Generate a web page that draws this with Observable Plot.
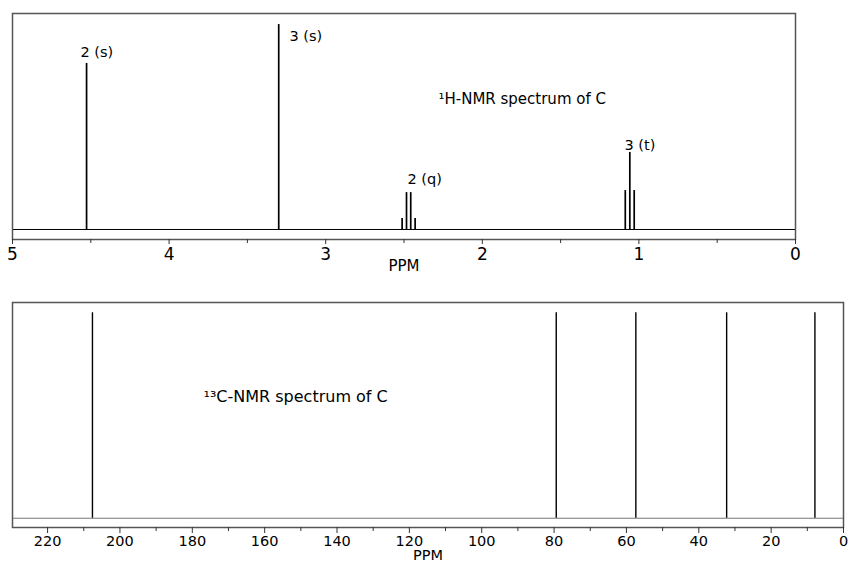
<!DOCTYPE html>
<html>
<head>
<meta charset="utf-8">
<script src="https://cdn.jsdelivr.net/npm/d3@7"></script>
<script src="https://cdn.jsdelivr.net/npm/@observablehq/plot@0.6"></script>
<style>
  html, body { margin: 0; padding: 0; background: #fff; }
  #chart { width: 848px; height: 563px; overflow: hidden; }
  #chart svg { display: block; }
</style>
</head>
<body>
<div id="chart"></div>
<script>
// ---- 1H-NMR data (ppm, relative intensity) ----
const hPeakPpm    = [4.527, 3.300, 2.512, 2.484, 2.457, 2.429, 1.087, 1.058, 1.030];
const hPeakHeight = [81,    100,   5.4,   18,    18,    5.4,   19,    37.6,  19];
const hTicks      = [5, 4, 3, 2, 1, 0];
const hMinorTicks = [4.5, 3.5, 2.5, 1.5, 0.5];
const hLabels     = ["2 (s)", "3 (s)", "2 (q)", "3 (t)"];
const hLabelPpm   = [4.566, 3.231, 2.478, 1.092];
const hLabelY     = [86.5, 94.1, 24.4, 41];
const hTitle      = "¹H-NMR spectrum of C";
const hTitlePpm   = 2.28;
const hTitleY     = 63.6;

// ---- 13C-NMR data ----
const cPeakPpm    = [207.6, 79.4, 57.4, 32.3, 7.9];
const cPeakHeight = [100, 100, 100, 100, 100];
const cTicks      = [220, 200, 180, 160, 140, 120, 100, 80, 60, 40, 20, 0];
const cMinorTicks = [210, 190, 170, 150, 130, 110, 90, 70, 50, 30, 10];
const cTitle      = "¹³C-NMR spectrum of C";
const cTitlePpm   = 176.9;
const cTitleY     = 59.2;

const axisTitle = "PPM";
const FONT = "'DejaVu Sans', sans-serif";

const hPeaks = hPeakPpm.map((p, i) => ({ppm: p, h: hPeakHeight[i]}));
const hLab = hLabels.map((t, i) => ({t, ppm: hLabelPpm[i], y: hLabelY[i]}));
const cPeaks = cPeakPpm.map((p, i) => ({ppm: p, h: cPeakHeight[i]}));

const hChart = Plot.plot({
  width: 848,
  height: 290,
  marginTop: 13,
  marginLeft: 12,
  marginRight: 53,
  marginBottom: 51,
  style: {fontFamily: FONT, background: "#fff", color: "#000"},
  x: {domain: [5, 0], axis: null},
  y: {domain: [-4.88, 105.4], axis: null},
  marks: [
    Plot.ruleY([0], {stroke: "#000", strokeWidth: 1}),
    Plot.ruleX(hPeaks, {x: "ppm", y1: 0, y2: "h", stroke: "#000", strokeWidth: 1.7}),
    Plot.frame({stroke: "#555", strokeWidth: 1.5}),
    Plot.axisX({ticks: hMinorTicks, tickSize: 4, tickFormat: () => "", label: null, stroke: "#333"}),
    Plot.axisX({ticks: hTicks, tickSize: 5, tickPadding: 3, fontSize: 17, label: null, tickFormat: d => String(d), stroke: "#333", fill: "#000"}),
    Plot.text(hLab, {x: "ppm", y: "y", text: "t", textAnchor: "start", lineAnchor: "middle", fontSize: 14.5, fill: "#000"}),
    Plot.text([hTitle], {x: () => hTitlePpm, y: () => hTitleY, text: d => d, textAnchor: "start", lineAnchor: "middle", fontSize: 15, fill: "#000"}),
    Plot.text([axisTitle], {frameAnchor: "bottom", text: d => d, dy: 27, lineAnchor: "middle", fontSize: 15, fill: "#000"})
  ]
});

const cChart = Plot.plot({
  width: 848,
  height: 273,
  marginTop: 12,
  marginLeft: 12,
  marginRight: 5,
  marginBottom: 36,
  style: {fontFamily: FONT, background: "#fff", color: "#000"},
  x: {domain: [229.7, 0], axis: null},
  y: {domain: [-4.5, 105], axis: null},
  marks: [
    Plot.ruleY([0], {stroke: "#777", strokeWidth: 1}),
    Plot.ruleX(cPeaks, {x: "ppm", y1: 0, y2: "h", stroke: "#000", strokeWidth: 1.4}),
    Plot.frame({stroke: "#555", strokeWidth: 1.5}),
    Plot.axisX({ticks: cMinorTicks, tickSize: 4, tickFormat: () => "", label: null, stroke: "#333"}),
    Plot.axisX({ticks: cTicks, tickSize: 6, tickPadding: 2, fontSize: 14.5, label: null, tickFormat: d => String(d), stroke: "#333", fill: "#000"}),
    Plot.text([cTitle], {x: () => cTitlePpm, y: () => cTitleY, text: d => d, textAnchor: "start", lineAnchor: "middle", fontSize: 16, fill: "#000"}),
    Plot.text([axisTitle], {frameAnchor: "bottom", text: d => d, dy: 28, lineAnchor: "middle", fontSize: 14.5, fill: "#000"})
  ]
});

const chartDiv = document.getElementById("chart");
chartDiv.appendChild(hChart);
chartDiv.appendChild(cChart);
</script>
</body>
</html>
